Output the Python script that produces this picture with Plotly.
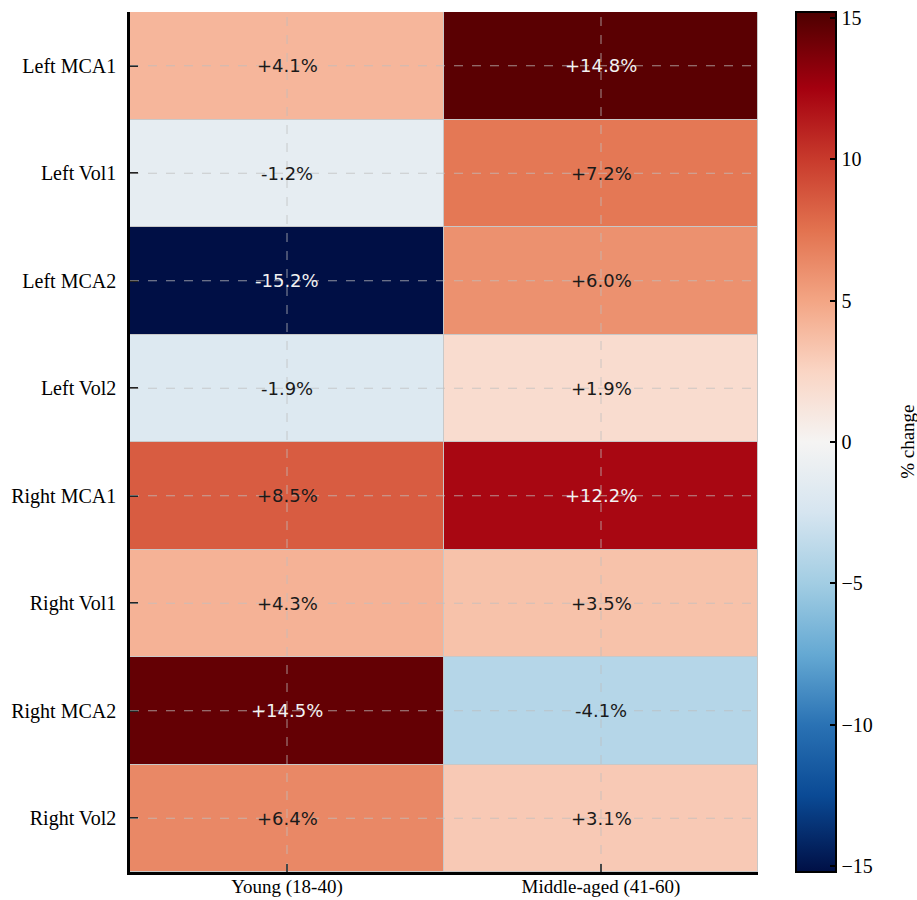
import plotly.graph_objects as go

rows = ["Left MCA1", "Left Vol1", "Left MCA2", "Left Vol2",
        "Right MCA1", "Right Vol1", "Right MCA2", "Right Vol2"]
groups = ["Young (18-40)", "Middle-aged (41-60)"]
young = [4.1, -1.2, -15.2, -1.9, 8.5, 4.3, 14.5, 6.4]
middle = [14.8, 7.2, 6.0, 1.9, 12.2, 3.5, -4.1, 3.1]
cbar_ticks = [-15, -10, -5, 0, 5, 10, 15]

z = [[y, m] for y, m in zip(young, middle)]
vmax = max(abs(v) for v in young + middle)

# (value, colour) stops
cmap_vals = [-15.2, -12.5, -10, -7.5, -5, -2.5, 0, 2.5, 5, 7.5, 10, 12.5, 15.2]
cmap_cols = ["#000f45", "#0a4a95", "#2a72b4", "#65a9d3", "#a2cde3", "#d6e5f0", "#f5f4f3",
             "#fad5c4", "#f3a584", "#e2724f", "#c83a2c", "#a4000f", "#4d0000"]
colorscale = [[(v + vmax) / (2 * vmax), c] for v, c in zip(cmap_vals, cmap_cols)]

serif = "Liberation Serif"
sans = "DejaVu Sans"

fig = go.Figure()
fig.add_trace(go.Heatmap(
    z=z, x=groups, y=rows, zmin=-vmax, zmax=vmax,
    colorscale=colorscale, xgap=1, ygap=1, hoverinfo="skip",
    colorbar=dict(
        x=1.06, xanchor="left", xpad=0, y=0.5, yanchor="middle", len=1, ypad=0,
        lenmode="fraction", thickness=40, outlinecolor="black", outlinewidth=2,
        tickvals=cbar_ticks, ticks="inside", ticklen=7, tickwidth=2, tickcolor="black",
        tickfont=dict(family=serif, size=20, color="black"),
    ),
))

annotations = []
for r, yv, mv in zip(rows, young, middle):
    for g, v in ((groups[0], yv), (groups[1], mv)):
        annotations.append(dict(
            x=g, y=r, text=f"{v:+.1f}%", showarrow=False,
            font=dict(family=sans, size=18, color="#f2f2f2" if abs(v) > 10 else "#1a1a1a"),
        ))
annotations.append(dict(
    text="% change", xref="paper", yref="paper", x=1.237, y=0.5, xanchor="center",
    yanchor="middle", textangle=-90, showarrow=False,
    font=dict(family=serif, size=19, color="black"),
))

shapes = []
for g in groups:
    shapes.append(dict(type="line", xref="x", yref="paper", x0=g, x1=g, y0=0, y1=1,
                       line=dict(color="rgba(190,190,190,0.75)", width=1, dash="dash"), layer="above"))
for r in rows:
    shapes.append(dict(type="line", xref="paper", yref="y", x0=0, x1=1, y0=r, y1=r,
                       line=dict(color="rgba(190,190,190,0.75)", width=1, dash="dash"), layer="above"))

fig.update_layout(
    width=917, height=900,
    margin=dict(l=130, r=159, t=12, b=28, autoexpand=False),
    paper_bgcolor="white", plot_bgcolor="#c8c8c8",
    annotations=annotations, shapes=shapes,
    xaxis=dict(showgrid=False, zeroline=False, showline=True, linecolor="black", linewidth=2.5,
               ticks="inside", ticklen=8, tickwidth=2, tickcolor="black", ticklabelstandoff=-5,
               tickfont=dict(family=serif, size=19, color="black"), layer="above traces"),
    yaxis=dict(showgrid=False, zeroline=False, showline=True, linecolor="black", linewidth=2.5,
               ticks="inside", ticklen=8, tickwidth=2, tickcolor="black", autorange="reversed",
               ticklabelstandoff=7,
               tickfont=dict(family=serif, size=20, color="black"), layer="above traces"),
)

fig.write_html(
    "out.html",
    config={"displayModeBar": False},
    post_script="document.body.style.margin='0';document.body.style.overflow='hidden';",
)
